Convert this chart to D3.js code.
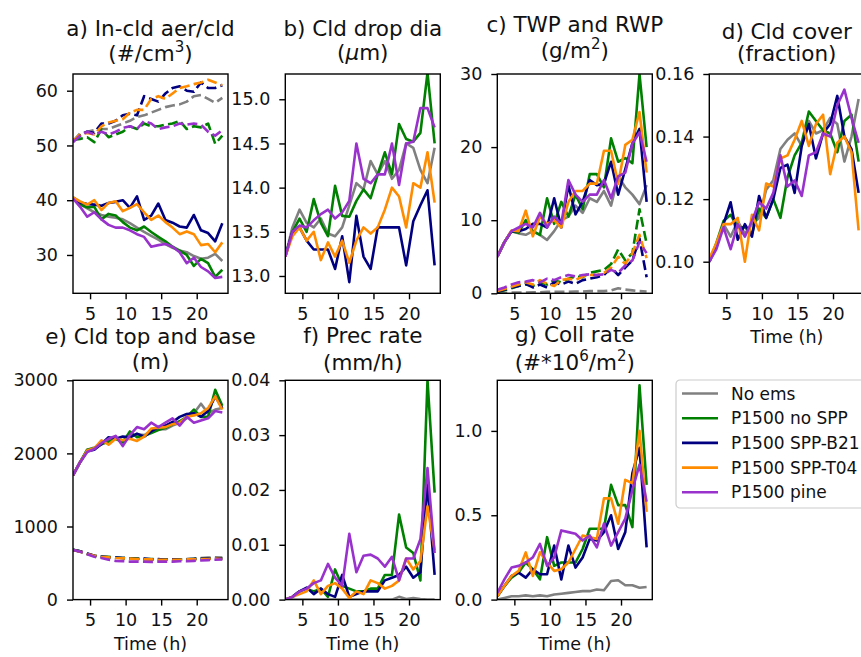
<!DOCTYPE html>
<html lang="en">

<head>
	<meta charset="UTF-8">
	<title>Cloud properties - emission experiments</title>
	<script src="https://d3js.org/d3.v7.min.js"></script>
	<style>
		body {
			margin: 0;
			background: #fff;
		}

		text {
			font-family: "DejaVu Sans", sans-serif;
			fill: #111;
		}
	</style>
</head>

<body>
	<div id="chart"></div>
</body>

<script>

	// time axis (h)
	var time = [2.6, 3.6, 4.6, 5.6, 6.6, 7.6, 8.6, 9.6, 10.6, 11.6, 12.6, 13.6, 14.6, 15.6, 16.6, 17.6, 18.6, 19.6, 20.6, 21.6, 22.6, 23.6];
	var xTicks = [5, 10, 15, 20];

	var runs = ["No ems", "P1500 no SPP", "P1500 SPP-B21", "P1500 SPP-T04", "P1500 pine"];
	var colors = ["#808080", "#008000", "#000080", "#ff8c00", "#9932cc"];

	// a) in-cloud aerosol (dashed) and cloud droplets (solid)
	var aer_noems = [50.8, 52.2, 52.5, 52.8, 53.0, 53.0, 53.5, 54.0, 54.5, 55.2, 55.5, 56.0, 56.5, 57.0, 57.3, 57.5, 58.0, 59.0, 59.2, 58.5, 57.8, 58.7];
	var aer_nospp = [51.0, 51.2, 51.5, 50.6, 53.0, 51.5, 52.0, 52.5, 53.5, 53.0, 54.0, 53.5, 53.5, 53.8, 54.0, 54.5, 53.0, 53.5, 53.3, 54.0, 50.3, 51.8];
	var aer_b21 = [50.8, 51.8, 52.5, 52.3, 54.0, 54.0, 54.5, 55.5, 55.8, 55.5, 59.0, 58.5, 58.0, 59.5, 60.5, 60.8, 60.0, 59.8, 61.5, 60.5, 60.5, 61.0];
	var aer_t04 = [50.8, 52.0, 52.3, 52.0, 53.5, 54.2, 54.5, 54.8, 56.0, 56.5, 56.5, 58.5, 59.0, 58.5, 59.5, 60.5, 60.8, 61.2, 61.5, 62.0, 61.5, 61.0];
	var aer_pine = [50.6, 51.8, 52.5, 52.0, 52.5, 52.0, 52.5, 53.2, 53.5, 53.0, 54.5, 54.0, 53.0, 53.3, 53.5, 54.0, 53.8, 54.0, 53.8, 52.5, 51.8, 52.8];

	var cdnc_noems = [40.5, 39.3, 38.5, 37.8, 37.3, 37.0, 36.8, 36.5, 35.8, 35.0, 34.2, 33.5, 32.8, 32.0, 31.3, 30.8, 30.5, 29.8, 29.3, 29.5, 30.2, 28.9];
	var cdnc_nospp = [40.5, 39.2, 38.7, 38.8, 36.5, 37.5, 37.2, 36.0, 35.0, 34.5, 35.2, 34.2, 33.3, 32.5, 31.5, 30.8, 30.0, 28.0, 29.3, 28.5, 26.0, 27.3];
	var cdnc_b21 = [40.5, 39.6, 39.3, 39.2, 39.0, 39.5, 39.7, 40.0, 38.6, 40.7, 36.4, 37.2, 39.4, 36.4, 35.9, 35.2, 35.0, 37.3, 34.5, 34.0, 32.5, 35.8];
	var cdnc_t04 = [40.5, 39.8, 39.2, 40.0, 38.2, 39.5, 39.8, 38.0, 38.6, 39.3, 37.8, 36.4, 37.2, 36.0, 35.0, 33.8, 34.3, 33.8, 31.8, 32.0, 30.5, 32.3];
	var cdnc_pine = [40.3, 38.8, 37.0, 37.8, 36.5, 35.5, 35.0, 35.0, 34.5, 33.8, 33.3, 31.5, 31.8, 32.0, 31.5, 30.5, 28.5, 29.5, 27.8, 27.0, 25.8, 26.0];

	// b) cloud drop diameter
	var dia_noems = [13.22, 13.55, 13.75, 13.6, 13.55, 13.65, 13.48, 13.45, 13.55, 13.8, 14.05, 13.98, 14.3, 14.15, 14.3, 14.1, 14.2, 14.5, 14.45, 14.2, 14.05, 14.45];
	var dia_nospp = [13.22, 13.5, 13.65, 13.5, 13.87, 13.6, 13.45, 14.02, 13.68, 13.67, 13.85, 13.98, 13.88, 14.15, 14.4, 14.15, 14.72, 14.55, 14.52, 14.62, 15.3, 14.5];
	var dia_b21 = [13.22, 13.5, 13.55, 13.4, 13.3, 13.3, 13.3, 13.08, 13.45, 12.93, 13.68, 13.22, 13.08, 13.55, 13.55, 13.55, 13.55, 13.12, 13.62, 13.8, 13.97, 13.12];
	var dia_t04 = [13.22, 13.45, 13.55, 13.4, 13.5, 13.18, 13.38, 13.22, 13.4, 13.15, 13.4, 13.55, 13.48, 13.55, 13.75, 14.0, 13.9, 13.55, 14.05, 14.0, 14.4, 13.83];
	var dia_pine = [13.22, 13.5, 13.57, 13.55, 13.63, 13.7, 13.75, 13.65, 13.72, 13.85, 14.5, 14.1, 14.05, 14.15, 14.15, 14.5, 14.03, 14.5, 14.52, 14.9, 14.9, 14.68];

	// c) total water path (solid) and rain water path (dashed)
	var twp_noems = [5.0, 7.0, 8.5, 8.2, 8.0, 8.5, 8.0, 7.3, 8.5, 10.0, 10.5, 12.0, 11.0, 13.0, 12.5, 14.0, 12.0, 16.0, 14.5, 13.5, 12.2, 14.8];
	var twp_nospp = [5.0, 7.0, 8.5, 8.3, 10.0, 8.5, 8.0, 13.0, 9.5, 12.5, 10.5, 13.5, 11.5, 16.3, 16.3, 14.5, 21.2, 18.0, 18.5, 17.8, 30.0, 20.0];
	var twp_b21 = [5.0, 7.0, 8.5, 8.5, 8.8, 9.5, 9.5, 9.0, 13.0, 9.0, 14.8, 10.8, 12.5, 15.5, 14.8, 15.0, 18.0, 13.5, 17.0, 20.5, 22.5, 12.5];
	var twp_t04 = [5.0, 7.0, 8.6, 8.5, 11.3, 7.8, 10.5, 9.5, 10.0, 9.0, 12.5, 14.0, 14.0, 15.0, 15.0, 19.5, 19.5, 15.0, 20.3, 21.0, 24.8, 16.5];
	var twp_pine = [5.0, 7.0, 8.5, 9.0, 9.5, 9.0, 11.0, 9.0, 10.5, 9.5, 15.5, 13.5, 12.5, 13.5, 13.5, 15.5, 13.0, 16.0, 16.5, 20.5, 22.0, 18.0];

	var rwp_noems = [0.0, 0.05, 0.1, 0.1, 0.1, 0.15, 0.15, 0.2, 0.2, 0.2, 0.2, 0.25, 0.25, 0.3, 0.3, 0.3, 0.4, 0.7, 0.5, 0.4, 0.3, 0.25];
	var rwp_nospp = [0.2, 0.4, 0.7, 1.0, 1.2, 1.0, 1.5, 1.2, 1.8, 1.5, 2.0, 2.3, 2.2, 2.8, 3.0, 3.2, 4.0, 6.0, 4.5, 5.5, 11.5, 6.8];
	var rwp_b21 = [0.2, 0.5, 0.8, 1.0, 1.3, 0.8, 1.2, 0.8, 1.5, 1.2, 1.6, 1.3, 1.8, 2.0, 2.2, 2.5, 3.5, 2.5, 3.5, 4.5, 7.5, 2.2];
	var rwp_t04 = [0.3, 0.6, 0.9, 1.2, 1.5, 1.2, 1.8, 1.3, 1.0, 1.8, 2.0, 1.8, 2.3, 2.5, 2.5, 2.8, 3.5, 5.0, 4.0, 5.5, 8.0, 4.8];
	var rwp_pine = [0.5, 0.8, 1.2, 1.5, 1.6, 1.8, 1.5, 2.0, 1.8, 2.2, 2.5, 2.3, 2.5, 2.6, 2.5, 2.6, 3.2, 2.8, 3.8, 4.5, 7.0, 5.5];

	// d) cloud cover
	var cover_noems = [0.100, 0.105, 0.112, 0.108, 0.113, 0.109, 0.112, 0.114, 0.123, 0.126, 0.136, 0.139, 0.141, 0.137, 0.145, 0.141, 0.142, 0.146, 0.144, 0.132, 0.140, 0.152];
	var cover_nospp = [0.100, 0.106, 0.113, 0.115, 0.111, 0.111, 0.109, 0.117, 0.114, 0.120, 0.114, 0.127, 0.134, 0.138, 0.148, 0.145, 0.142, 0.141, 0.135, 0.145, 0.147, 0.132];
	var cover_b21 = [0.100, 0.105, 0.112, 0.119, 0.107, 0.112, 0.108, 0.121, 0.114, 0.120, 0.130, 0.131, 0.122, 0.137, 0.144, 0.133, 0.141, 0.144, 0.153, 0.140, 0.136, 0.122];
	var cover_t04 = [0.101, 0.106, 0.112, 0.112, 0.114, 0.100, 0.115, 0.110, 0.125, 0.124, 0.133, 0.134, 0.139, 0.145, 0.137, 0.144, 0.147, 0.128, 0.138, 0.140, 0.135, 0.110];
	var cover_pine = [0.100, 0.104, 0.111, 0.104, 0.112, 0.108, 0.113, 0.119, 0.117, 0.122, 0.134, 0.124, 0.126, 0.121, 0.134, 0.135, 0.141, 0.140, 0.150, 0.155, 0.146, 0.138];

	// e) cloud top (solid) and cloud base (dashed)
	var top_noems = [1700, 1880, 2050, 2080, 2120, 2180, 2200, 2180, 2220, 2260, 2250, 2300, 2330, 2330, 2380, 2420, 2480, 2550, 2680, 2550, 2600, 2620];
	var top_nospp = [1700, 1880, 2050, 2070, 2130, 2160, 2200, 2150, 2300, 2220, 2240, 2280, 2320, 2350, 2400, 2440, 2500, 2600, 2500, 2500, 2870, 2650];
	var top_b21 = [1700, 1880, 2030, 2050, 2130, 2220, 2200, 2230, 2220, 2270, 2230, 2300, 2360, 2380, 2430, 2500, 2540, 2550, 2500, 2580, 2780, 2620];
	var top_t04 = [1700, 1880, 2040, 2070, 2180, 2120, 2200, 2180, 2200, 2170, 2230, 2340, 2350, 2360, 2400, 2420, 2500, 2520, 2550, 2620, 2780, 2600];
	var top_pine = [1700, 1880, 2020, 2060, 2140, 2200, 2240, 2100, 2250, 2360, 2330, 2420, 2360, 2420, 2480, 2380, 2500, 2420, 2450, 2480, 2580, 2560];

	var base_noems = [680, 660, 630, 600, 590, 580, 575, 570, 560, 560, 555, 550, 550, 550, 550, 550, 555, 560, 570, 575, 580, 575];
	var base_nospp = [680, 660, 625, 600, 590, 585, 575, 570, 565, 560, 555, 555, 550, 550, 550, 550, 550, 555, 560, 560, 565, 560];
	var base_b21 = [680, 660, 630, 600, 590, 580, 575, 570, 560, 555, 560, 550, 555, 545, 550, 545, 550, 555, 560, 560, 565, 560];
	var base_t04 = [680, 655, 625, 600, 585, 580, 570, 565, 560, 555, 550, 550, 545, 545, 545, 545, 550, 550, 555, 555, 560, 555];
	var base_pine = [680, 655, 620, 585, 570, 545, 530, 525, 520, 520, 520, 515, 520, 520, 520, 525, 525, 530, 535, 540, 545, 550];

	// f) precipitation rate
	var prec_noems = [0, 0, 0, 0, 0, 0, 0, 0, 0, 0, 0, 0, 0, 0, 0, 0, 0.0005, 0.0001, 0.0003, 0.0001, 0, 0];
	var prec_nospp = [0, 0.0005, 0.0015, 0.002, 0.0015, 0.002, 0.0005, 0.0055, 0.0025, 0.002, 0.0015, 0.0015, 0.002, 0.002, 0.0045, 0.0045, 0.0155, 0.0095, 0.0085, 0.0035, 0.040, 0.0195];
	var prec_b21 = [0, 0.0005, 0.0015, 0.0022, 0.001, 0.002, 0.001, 0.0005, 0.0045, 0.0005, 0.001, 0.0015, 0.0015, 0.0015, 0.0035, 0.004, 0.0045, 0.006, 0.004, 0.005, 0.021, 0.0045];
	var prec_t04 = [0, 0.0005, 0.001, 0.0015, 0.0035, 0.001, 0.0025, 0.003, 0.002, 0.0003, 0.0015, 0.001, 0.0035, 0.003, 0.002, 0.0025, 0.0035, 0.0075, 0.0055, 0.007, 0.017, 0.009];
	var prec_pine = [0, 0.0005, 0.0015, 0.002, 0.003, 0.0035, 0.0065, 0.004, 0.0025, 0.012, 0.005, 0.008, 0.0082, 0.0075, 0.006, 0.0078, 0.0035, 0.0075, 0.0075, 0.011, 0.024, 0.0085];

	// g) collision rate
	var coll_noems = [0.0, 0.01, 0.02, 0.02, 0.025, 0.02, 0.025, 0.02, 0.03, 0.035, 0.04, 0.045, 0.05, 0.05, 0.06, 0.055, 0.11, 0.115, 0.085, 0.085, 0.07, 0.075];
	var coll_nospp = [0.02, 0.08, 0.13, 0.16, 0.22, 0.18, 0.12, 0.37, 0.2, 0.22, 0.22, 0.22, 0.3, 0.42, 0.42, 0.42, 0.68, 0.56, 0.56, 0.43, 1.27, 0.68];
	var coll_b21 = [0.02, 0.08, 0.14, 0.16, 0.13, 0.18, 0.15, 0.15, 0.32, 0.12, 0.32, 0.19, 0.25, 0.36, 0.35, 0.4, 0.5, 0.3, 0.4, 0.75, 0.9, 0.31];
	var coll_t04 = [0.02, 0.08, 0.14, 0.17, 0.28, 0.14, 0.28, 0.22, 0.17, 0.18, 0.22, 0.3, 0.38, 0.37, 0.36, 0.6, 0.6, 0.45, 0.71, 0.69, 1.0, 0.52];
	var coll_pine = [0.04, 0.12, 0.19, 0.2, 0.22, 0.25, 0.33, 0.2, 0.25, 0.41, 0.4, 0.39, 0.35, 0.38, 0.31, 0.45, 0.32, 0.4, 0.48, 0.65, 0.8, 0.58];

	var w = 861;
	var h = 657;
	var pw = 155;
	var ph = 219.3;
	var tickFont = 17.5;
	var titleFont = 21.5;

	var svg = d3.select("#chart").append("svg")
		.attr("width", w)
		.attr("height", h);

	// one entry per subplot, lines listed as [values, dashed]
	var panels = [
		{ id: "a", left: 73, top: 74, y: [23.0, 63.05], ticks: [30, 40, 50, 60], fmt: "d",
			title: ["a) In-cld aer/cld", "(#/cm^3)"], tb: [35.5, 61],
			lines: [[aer_noems, cdnc_noems], [aer_nospp, cdnc_nospp], [aer_b21, cdnc_b21], [aer_t04, cdnc_t04], [aer_pine, cdnc_pine]], dashFirst: true },
		{ id: "b", left: 285.3, top: 74, y: [12.804, 15.286], ticks: [13, 13.5, 14, 14.5, 15], fmt: ".1f",
			title: ["b) Cld drop dia", "(~μm)"], tb: [36, 60],
			lines: [[dia_noems], [dia_nospp], [dia_b21], [dia_t04], [dia_pine]] },
		{ id: "c", left: 497.3, top: 74, y: [0, 30], ticks: [0, 10, 20, 30], fmt: "d",
			title: ["c) TWP and RWP", "(g/m^2)"], tb: [31.5, 58],
			lines: [[twp_noems, rwp_noems], [twp_nospp, rwp_nospp], [twp_b21, rwp_b21], [twp_t04, rwp_t04], [twp_pine, rwp_pine]] },
		{ id: "d", left: 709.3, top: 74, y: [0.0899, 0.16], ticks: [0.10, 0.12, 0.14, 0.16], fmt: ".2f",
			title: ["d) Cld cover", "(fraction)"], tb: [38.5, 60.5], xlabel: true,
			lines: [[cover_noems], [cover_nospp], [cover_b21], [cover_t04], [cover_pine]] },
		{ id: "e", left: 73, top: 380.3, y: [0, 3000], ticks: [0, 1000, 2000, 3000], fmt: "d",
			title: ["e) Cld top and base", "(m)"], tb: [344, 369], xlabel: true,
			lines: [[top_noems, base_noems], [top_nospp, base_nospp], [top_b21, base_b21], [top_t04, base_t04], [top_pine, base_pine]] },
		{ id: "f", left: 285.3, top: 380.3, y: [0, 0.04], ticks: [0, 0.01, 0.02, 0.03, 0.04], fmt: ".2f",
			title: ["f) Prec rate", "(mm/h)"], tb: [343, 369.5], xlabel: true,
			lines: [[prec_noems], [prec_nospp], [prec_b21], [prec_t04], [prec_pine]] },
		{ id: "g", left: 497.3, top: 380.3, y: [0, 1.3], ticks: [0, 0.5, 1.0], fmt: ".1f",
			title: ["g) Coll rate", "(#*10^6/m^2)"], tb: [341.5, 370], xlabel: true,
			lines: [[coll_noems], [coll_nospp], [coll_b21], [coll_t04], [coll_pine]] }
	];

	panels.forEach(drawPanel);
	drawLegend();

	// "^x" -> superscript x, "~x" -> italic x
	function richText(sel, str, size) {
		var parts = str.split(/(\^.|~.)/).filter(function (s) { return s.length; });
		var shift = 0;
		parts.forEach(function (s) {
			var t = sel.append("tspan");
			if (s[0] == "^") {
				t.text(s[1]).attr("font-size", size * 0.7).attr("dy", -size * 0.42);
				shift = size * 0.42;
			} else if (s[0] == "~") {
				t.text(s[1]).attr("font-style", "italic").attr("dy", shift);
				shift = 0;
			} else {
				t.text(s).attr("dy", shift);
				shift = 0;
			}
		});
	}

	function drawPanel(p) {
		var g = svg.append("g").attr("transform", "translate(" + p.left + "," + p.top + ")");

		var x = d3.scaleLinear().domain([2.6, 24.4]).range([0, pw]);
		var y = d3.scaleLinear().domain(p.y).range([ph, 0]);

		g.append("clipPath").attr("id", "clip-" + p.id)
			.append("rect").attr("width", pw).attr("height", ph);

		var line = d3.line()
			.x(function (d, i) { return x(time[i]); })
			.y(function (d) { return y(d); });

		var lg = g.append("g").attr("clip-path", "url(#clip-" + p.id + ")");

		p.lines.forEach(function (set, k) {
			set.forEach(function (vals, j) {
				var dashed = p.dashFirst ? j == 0 : j == 1;
				lg.append("path")
					.datum(vals)
					.attr("d", line)
					.attr("fill", "none")
					.attr("stroke", colors[k])
					.attr("stroke-width", 2.6)
					.attr("stroke-linejoin", "round")
					.attr("stroke-dasharray", dashed ? "10,4.3" : null);
			});
		});

		var ax = g.append("g")
			.attr("transform", "translate(0," + ph + ")")
			.call(d3.axisBottom(x).tickValues(xTicks).tickSize(6).tickPadding(8));
		var ay = g.append("g")
			.call(d3.axisLeft(y).tickValues(p.ticks).tickFormat(d3.format(p.fmt)).tickSize(6).tickPadding(9));

		[ax, ay].forEach(function (a) {
			a.select(".domain").remove();
			a.selectAll("line").attr("stroke", "#000").attr("stroke-width", 1.4);
			a.selectAll("text").attr("font-size", tickFont).attr("font-family", "DejaVu Sans").attr("fill", "#111");
		});

		// spines
		g.append("rect")
			.attr("width", pw)
			.attr("height", ph)
			.attr("fill", "none")
			.attr("stroke", "#000")
			.attr("stroke-width", 1.4);

		p.title.forEach(function (t, i) {
			var tx = svg.append("text")
				.attr("x", p.left + pw / 2)
				.attr("y", p.tb[i])
				.attr("text-anchor", "middle")
				.attr("font-size", titleFont);
			richText(tx, t, titleFont);
		});

		if (p.xlabel) {
			svg.append("text")
				.attr("x", p.left + pw / 2)
				.attr("y", p.top + ph + 50)
				.attr("text-anchor", "middle")
				.attr("font-size", tickFont)
				.text("Time (h)");
		}
	}

	function drawLegend() {
		var lg = svg.append("g").attr("transform", "translate(676,380)");
		lg.append("rect")
			.attr("width", 210)
			.attr("height", 128)
			.attr("rx", 4)
			.attr("fill", "#fff")
			.attr("fill-opacity", 0.8)
			.attr("stroke", "#ccc")
			.attr("stroke-width", 1.2);

		var rows = lg.selectAll(".row")
			.data(runs)
			.enter()
			.append("g")
			.attr("class", "row")
			.attr("transform", function (d, i) { return "translate(0," + (13.5 + i * 24.7) + ")"; });

		rows.append("line")
			.attr("x1", 6)
			.attr("x2", 42)
			.attr("stroke", function (d, i) { return colors[i]; })
			.attr("stroke-width", 2.6);

		rows.append("text")
			.attr("x", 55)
			.attr("dy", "0.36em")
			.attr("font-size", 17)
			.text(function (d) { return d; });
	}

</script>

</html>
